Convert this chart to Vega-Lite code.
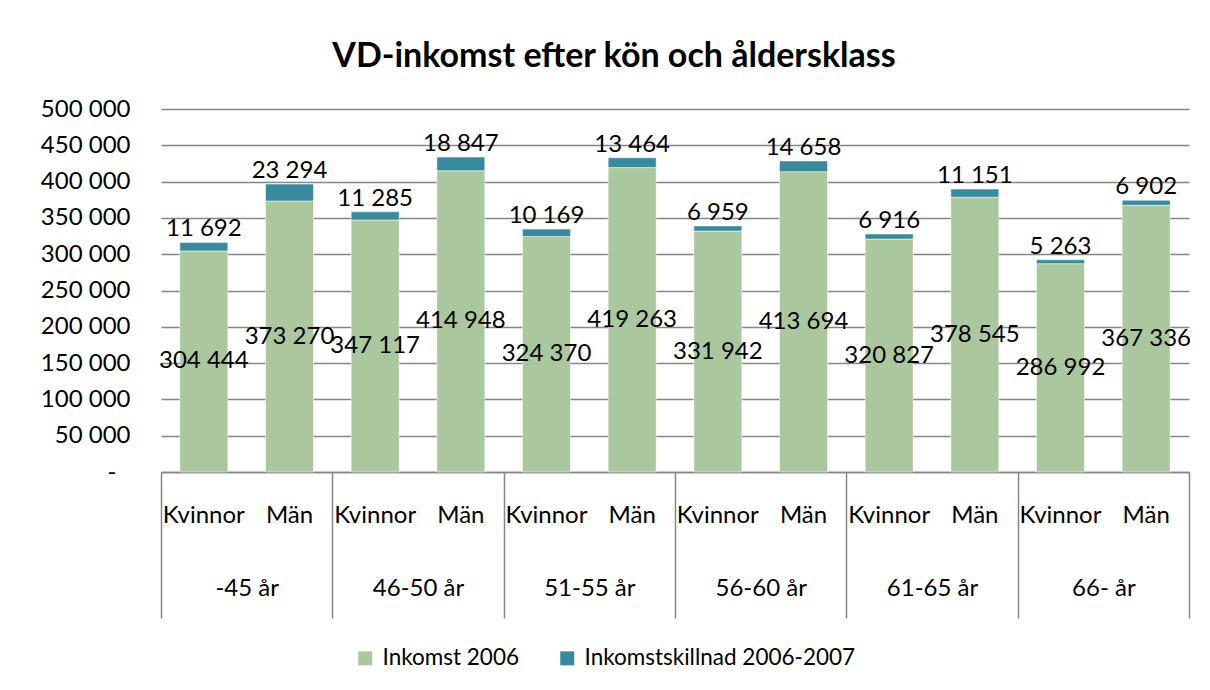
{
  "$schema": "https://vega.github.io/schema/vega-lite/v6.json",
  "width": 1028,
  "height": 363,
  "autosize": {"type": "none"},
  "padding": {"left": 161, "top": 109, "right": 21, "bottom": 218},
  "background": "#ffffff",
  "title": {
    "text": "VD-inkomst efter kön och åldersklass",
    "font": "Lato",
    "fontSize": 34,
    "fontWeight": "bold",
    "color": "#000000",
    "anchor": "middle",
    "frame": "group",
    "baseline": "alphabetic",
    "dx": -61,
    "offset": -4
  },
  "config": {
    "font": "Lato",
    "view": {"stroke": null},
    "locale": {
      "number": {"decimal": ",", "thousands": " ", "grouping": [3], "currency": ["", " kr"]}
    }
  },
  "data": {
    "values": [
      {"age": "-45 år", "sex": "Kvinnor", "key": "-45 år|Kvinnor", "series": "Inkomst 2006", "value": 304444},
      {"age": "-45 år", "sex": "Kvinnor", "key": "-45 år|Kvinnor", "series": "Inkomstskillnad 2006-2007", "value": 11692},
      {"age": "-45 år", "sex": "Män", "key": "-45 år|Män", "series": "Inkomst 2006", "value": 373270},
      {"age": "-45 år", "sex": "Män", "key": "-45 år|Män", "series": "Inkomstskillnad 2006-2007", "value": 23294},
      {"age": "46-50 år", "sex": "Kvinnor", "key": "46-50 år|Kvinnor", "series": "Inkomst 2006", "value": 347117},
      {"age": "46-50 år", "sex": "Kvinnor", "key": "46-50 år|Kvinnor", "series": "Inkomstskillnad 2006-2007", "value": 11285},
      {"age": "46-50 år", "sex": "Män", "key": "46-50 år|Män", "series": "Inkomst 2006", "value": 414948},
      {"age": "46-50 år", "sex": "Män", "key": "46-50 år|Män", "series": "Inkomstskillnad 2006-2007", "value": 18847},
      {"age": "51-55 år", "sex": "Kvinnor", "key": "51-55 år|Kvinnor", "series": "Inkomst 2006", "value": 324370},
      {"age": "51-55 år", "sex": "Kvinnor", "key": "51-55 år|Kvinnor", "series": "Inkomstskillnad 2006-2007", "value": 10169},
      {"age": "51-55 år", "sex": "Män", "key": "51-55 år|Män", "series": "Inkomst 2006", "value": 419263},
      {"age": "51-55 år", "sex": "Män", "key": "51-55 år|Män", "series": "Inkomstskillnad 2006-2007", "value": 13464},
      {"age": "56-60 år", "sex": "Kvinnor", "key": "56-60 år|Kvinnor", "series": "Inkomst 2006", "value": 331942},
      {"age": "56-60 år", "sex": "Kvinnor", "key": "56-60 år|Kvinnor", "series": "Inkomstskillnad 2006-2007", "value": 6959},
      {"age": "56-60 år", "sex": "Män", "key": "56-60 år|Män", "series": "Inkomst 2006", "value": 413694},
      {"age": "56-60 år", "sex": "Män", "key": "56-60 år|Män", "series": "Inkomstskillnad 2006-2007", "value": 14658},
      {"age": "61-65 år", "sex": "Kvinnor", "key": "61-65 år|Kvinnor", "series": "Inkomst 2006", "value": 320827},
      {"age": "61-65 år", "sex": "Kvinnor", "key": "61-65 år|Kvinnor", "series": "Inkomstskillnad 2006-2007", "value": 6916},
      {"age": "61-65 år", "sex": "Män", "key": "61-65 år|Män", "series": "Inkomst 2006", "value": 378545},
      {"age": "61-65 år", "sex": "Män", "key": "61-65 år|Män", "series": "Inkomstskillnad 2006-2007", "value": 11151},
      {"age": "66- år", "sex": "Kvinnor", "key": "66- år|Kvinnor", "series": "Inkomst 2006", "value": 286992},
      {"age": "66- år", "sex": "Kvinnor", "key": "66- år|Kvinnor", "series": "Inkomstskillnad 2006-2007", "value": 5263},
      {"age": "66- år", "sex": "Män", "key": "66- år|Män", "series": "Inkomst 2006", "value": 367336},
      {"age": "66- år", "sex": "Män", "key": "66- år|Män", "series": "Inkomstskillnad 2006-2007", "value": 6902}
    ]
  },
  "resolve": {"scale": {"x": "independent"}},
  "layer": [
    {
      "encoding": {
        "y": {
          "field": "value",
          "type": "quantitative",
          "stack": "zero",
          "scale": {"domain": [0, 500000], "nice": false},
          "axis": {
            "title": null,
            "values": [0, 50000, 100000, 150000, 200000, 250000, 300000, 350000, 400000, 450000, 500000],
            "format": ",d",
            "labelExpr": "datum.value === 0 ? '-' : datum.label",
            "labelFont": "Lato",
            "labelFontSize": 24,
            "labelColor": "#000000",
            "labelPadding": {"condition": {"test": "datum.value === 0", "value": 45}, "value": 31},
            "labelOverlap": false,
            "ticks": false,
            "domain": false,
            "grid": true,
            "gridColor": "#868686",
            "gridWidth": 1.5
          }
        }
      },
      "layer": [
        {
          "mark": {"type": "bar", "stroke": "#ffffff", "strokeWidth": 1, "strokeOpacity": 0.5},
          "encoding": {
            "x": {
              "field": "key",
              "type": "nominal",
              "sort": null,
              "scale": {"paddingInner": 0.44, "paddingOuter": 0.22},
              "axis": {
                "title": null,
                "orient": "bottom",
                "labelExpr": "split(datum.label, '|')[1]",
                "labelAngle": 0,
                "labelFont": "Lato",
                "labelFontSize": 24,
                "labelColor": "#000000",
                "labelPadding": 31,
                "labelOverlap": false,
                "ticks": false,
                "tickSize": 0,
                "domain": true,
                "domainColor": "#868686",
                "domainWidth": 1.5,
                "grid": false
              }
            },
            "color": {
              "field": "series",
              "type": "nominal",
              "scale": {
                "domain": ["Inkomst 2006", "Inkomstskillnad 2006-2007"],
                "range": ["#abc79d", "#388a9c"]
              },
              "legend": {
                "title": null,
                "orient": "none",
                "legendX": 193,
                "legendY": 538,
                "direction": "horizontal",
                "symbolType": "square",
                "symbolSize": 196,
                "symbolStrokeWidth": 0,
                "labelFont": "Lato",
                "labelFontSize": 22.5,
                "labelColor": "#000000",
                "labelLimit": 500,
                "labelOffset": 6,
                "columnPadding": 36
              }
            },
            "order": {"field": "series", "type": "ordinal", "sort": "ascending"}
          }
        },
        {
          "mark": {"type": "text", "baseline": "middle", "align": "center", "fontSize": 24, "font": "Lato", "color": "#000000"},
          "encoding": {
            "x": {"field": "key", "type": "nominal", "sort": null},
            "y": {"field": "value", "type": "quantitative", "stack": "zero", "bandPosition": 0.5},
            "detail": {"field": "series", "type": "nominal"},
            "order": {"field": "series", "type": "ordinal", "sort": "ascending"},
            "text": {
              "condition": {"test": "datum.series === 'Inkomst 2006'", "field": "value", "type": "quantitative", "format": ",d"},
              "value": ""
            }
          }
        },
        {
          "mark": {"type": "text", "baseline": "alphabetic", "align": "center", "dy": -6, "fontSize": 24, "font": "Lato", "color": "#000000"},
          "encoding": {
            "x": {"field": "key", "type": "nominal", "sort": null},
            "detail": {"field": "series", "type": "nominal"},
            "order": {"field": "series", "type": "ordinal", "sort": "ascending"},
            "text": {
              "condition": {"test": "datum.series === 'Inkomstskillnad 2006-2007'", "field": "value", "type": "quantitative", "format": ",d"},
              "value": ""
            }
          }
        }
      ]
    },
    {
      "mark": {"type": "text", "text": ""},
      "encoding": {
        "x": {
          "field": "age",
          "type": "nominal",
          "sort": null,
          "scale": {"paddingInner": 0, "paddingOuter": 0},
          "axis": {
            "title": null,
            "orient": "bottom",
            "labelAngle": 0,
            "labelFont": "Lato",
            "labelFontSize": 24,
            "labelColor": "#000000",
            "domain": false,
            "ticks": true,
            "tickBand": "extent",
            "tickSize": 146,
            "tickColor": "#868686",
            "tickWidth": 1.5,
            "labelPadding": -42,
            "grid": false
          }
        }
      }
    }
  ]
}
